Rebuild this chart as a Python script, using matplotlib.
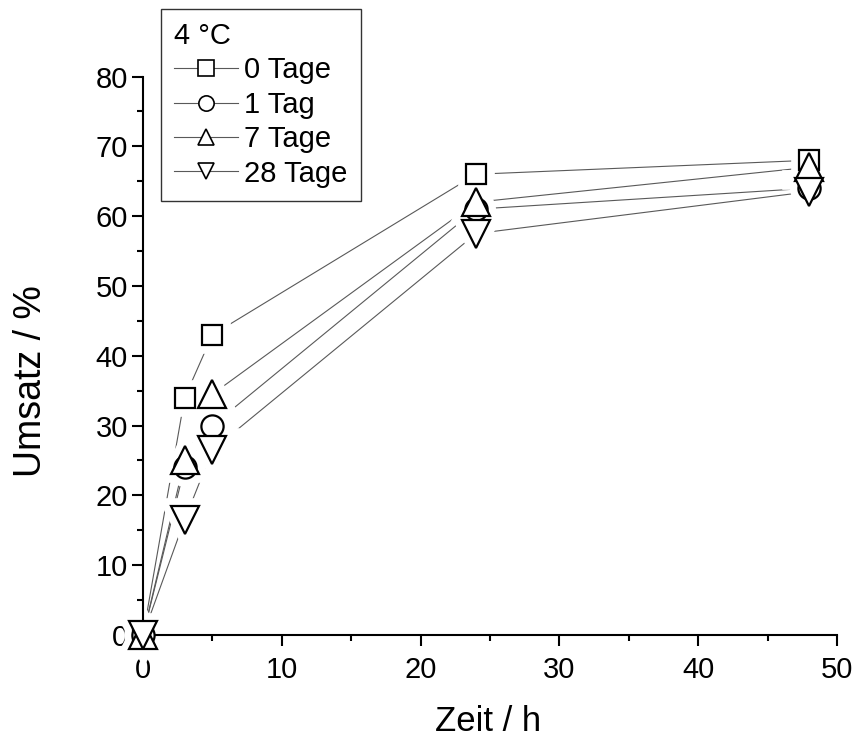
import matplotlib
matplotlib.use('Agg')
import matplotlib.pyplot as plt
from matplotlib.lines import Line2D
from matplotlib.ticker import MultipleLocator

plt.rcParams['font.family'] = ['Liberation Sans', 'DejaVu Sans']

zeit = [0, 3, 5, 24, 48]
umsatz_0 = [0, 34, 43, 66, 68]
umsatz_1 = [0, 24, 30, 61, 64]
umsatz_7 = [0, 25, 34.5, 62, 67]
umsatz_28 = [0, 16.5, 26.5, 57.5, 63.5]

serien = [
    ('0 Tage', umsatz_0, 's', 15),
    ('1 Tag', umsatz_1, 'o', 16),
    ('7 Tage', umsatz_7, '^', 20),
    ('28 Tage', umsatz_28, 'v', 20),
]

fig = plt.figure(figsize=(8.57, 7.4), dpi=100)
ax = fig.add_axes([0.1669, 0.1419, 0.8098, 0.7547])

for name, werte, m, ms in serien:
    ax.plot(zeit, werte, '-', color='0.35', lw=0.8, zorder=1)
    # white halo so the lines stop short of the symbols (Origin style)
    ax.plot(zeit, werte, ls='none', marker=m, ms=ms, mfc='white', mec='white',
            mew=12, zorder=2, clip_on=False)
for name, werte, m, ms in serien:
    ax.plot(zeit, werte, ls='none', marker=m, ms=ms, mfc='white', mec='black',
            mew=1.6, zorder=3, clip_on=False)

ax.set_xlim(0, 50)
ax.set_ylim(0, 80)
ax.xaxis.set_major_locator(MultipleLocator(10))
ax.xaxis.set_minor_locator(MultipleLocator(5))
ax.yaxis.set_major_locator(MultipleLocator(10))
ax.yaxis.set_minor_locator(MultipleLocator(5))
for s in ['top', 'right']:
    ax.spines[s].set_visible(False)
for s in ['left', 'bottom']:
    ax.spines[s].set_linewidth(1.5)
ax.tick_params(which='major', direction='out', length=8, width=1.5,
               labelsize=21)
ax.tick_params(axis='x', which='major', pad=7)
ax.tick_params(axis='y', which='major', pad=3)
ax.tick_params(which='minor', direction='out', length=4.5, width=1.5)

ax.set_xlabel('Zeit / h', fontsize=25)
ax.set_ylabel('Umsatz / %', fontsize=27)
ax.xaxis.set_label_coords(0.497, -0.125)
ax.yaxis.set_label_coords(-0.135, 0.454)

handles = [Line2D([], [], color='0.35', lw=0.8, marker=m, ms=11, mfc='white',
                  mec='black', mew=1.2) for _, _, m, _ in serien]
labels = [name for name, _, _, _ in serien]
leg = fig.legend(handles, labels, title='4 °C', loc='upper left',
                 bbox_to_anchor=(0.188, 0.988), borderaxespad=0,
                 fontsize=21, title_fontsize=21,
                 frameon=True, fancybox=False, edgecolor='black',
                 handlelength=2.2, handletextpad=0.2, labelspacing=0.22,
                 borderpad=0.45, numpoints=1, alignment='left')
leg.get_frame().set_linewidth(1.0)

fig.savefig('out.png', dpi=100)
